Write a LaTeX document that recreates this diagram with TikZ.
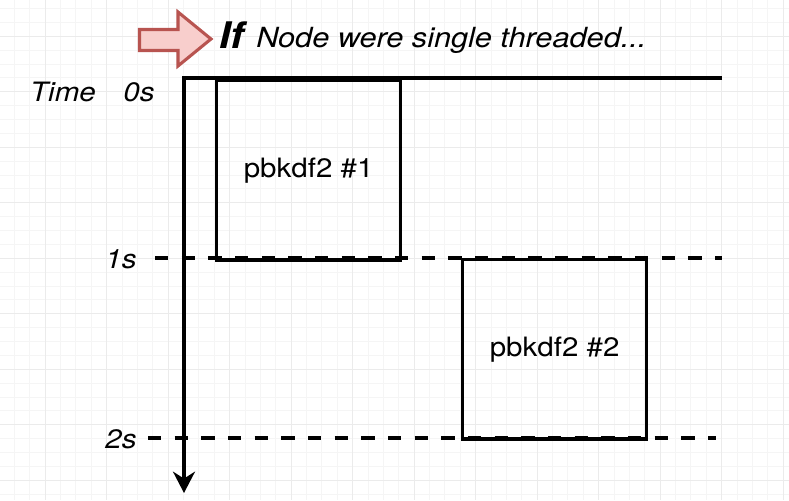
\documentclass[tikz,border=0pt]{standalone}
\usepackage{fontspec}
\setsansfont{TeX Gyre Heros}[FakeStretch=1.108]
\usetikzlibrary{arrows.meta}
\definecolor{gridmajor}{HTML}{EBEBEB}
\definecolor{gridminor}{HTML}{F5F5F5}
\definecolor{hintfill}{HTML}{F8CECC}
\definecolor{hintline}{HTML}{B85450}

\begin{document}
\begin{tikzpicture}[x=0.75pt,y=-0.75pt]
\tikzstyle{every node}=[font=\sffamily\itshape\fontsize{20}{24}\selectfont]
\tikzstyle{job}=[draw,line width=2.5pt,minimum width=138pt,minimum height=134.5pt,inner sep=0pt,anchor=north west,font=\sffamily\fontsize{20}{24}\selectfont]
\tikzstyle{axis}=[line width=2.5pt,-{Stealth[length=16pt,width=16.5pt]}]
\tikzstyle{tick}=[line width=2.5pt,dash pattern=on 10pt off 10pt]
\useasboundingbox (0,0) rectangle (789,500);
\fill[white] (0,0) rectangle (789,500);
% background grid
\foreach \i in {0,...,50} \draw[gridminor,line width=0.75pt] (14.45+15.375*\i,0) -- (14.45+15.375*\i,500);
\foreach \j in {0,...,35} \draw[gridminor,line width=0.75pt] (0,8.55+13.875*\j) -- (789,8.55+13.875*\j);
\foreach \i in {0,...,12} \draw[gridmajor,line width=0.75pt] (45.2+61.5*\i,0) -- (45.2+61.5*\i,500);
\foreach \j in {0,...,8} \draw[gridmajor,line width=0.75pt] (0,36.3+55.5*\j) -- (789,36.3+55.5*\j);
% title
\draw[hintline,fill=hintfill,line width=2.3pt] (139.5,29.5) -- (178,29.5) -- (178,12) -- (211,39) -- (178,66) -- (178,50.5) -- (139.5,50.5) -- cycle;
\node[anchor=base west,inner sep=0pt,font=\sffamily\bfseries\itshape\fontsize{27.5}{30}\selectfont] (cond) at (219,48) {If};
\node[anchor=base west,inner sep=0pt,font=\sffamily\itshape\fontsize{20.8}{24}\selectfont] (title) at (256,47) {Node were single threaded...};
% time axis
\coordinate (origin) at (184,78);
\coordinate (top end) at (722,78);
\coordinate (bottom end) at (184,493);
\draw[axis] (top end) -- (origin) -- (bottom end);
\node (time) at (63,92) {Time};
\node (zero) at (139,92) {0s};
\node (one) at (121,259) {1s};
\node (two) at (121,439) {2s};
\coordinate (one start) at (155,258);
\coordinate (one end) at (722,258);
\coordinate (two start) at (148,438);
\coordinate (two end) at (716,438);
\draw[tick] (one start) -- (one end);
\draw[tick] (two start) -- (two end);
% jobs
\node[job] (job1) at (215,79) {pbkdf2 \#1};
\node[job] (job2) at (461,258) {pbkdf2 \#2};
\end{tikzpicture}
\end{document}
